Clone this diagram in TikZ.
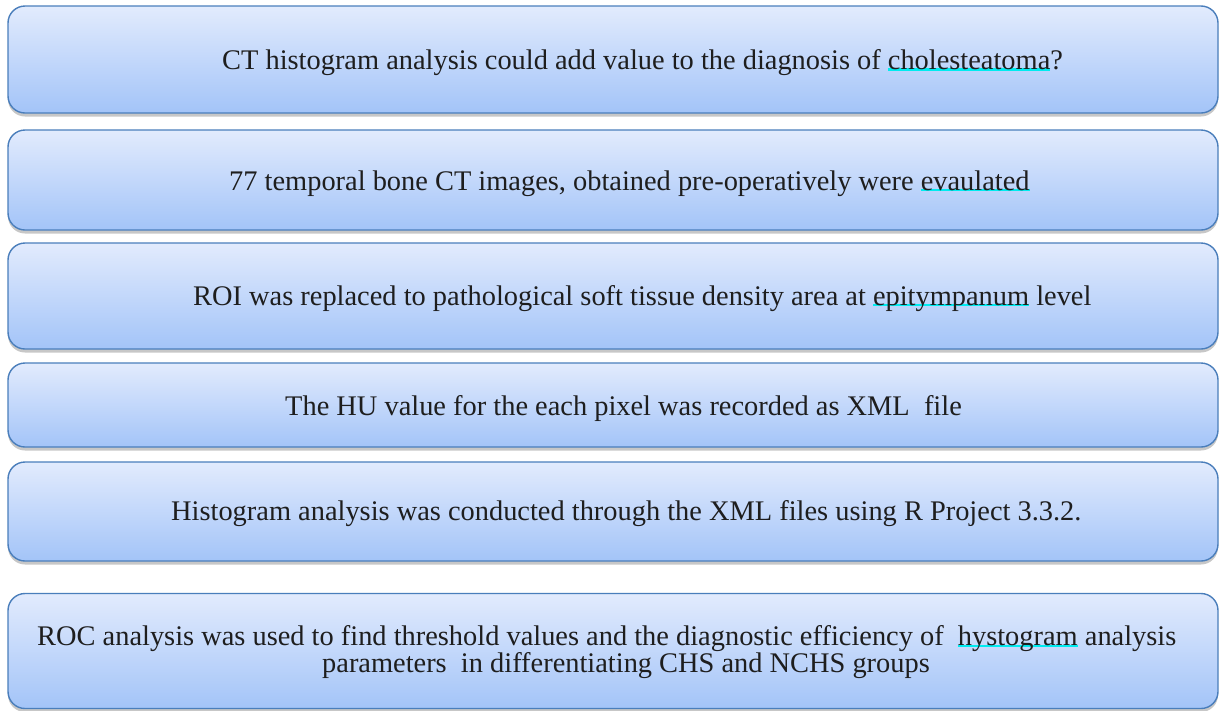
\documentclass[tikz,border=0pt]{standalone}
\usepackage{fontspec}
\setmainfont{Liberation Serif}
\usetikzlibrary{shadows}
\definecolor{boxtop}{RGB}{226,235,253}
\definecolor{boxbot}{RGB}{163,196,248}
\definecolor{boxline}{RGB}{74,126,187}
\definecolor{ulcyan}{RGB}{0,235,240}
\definecolor{txt}{RGB}{30,30,30}
\newsavebox\culbox
\newcommand\cul[1]{\sbox\culbox{#1}\rlap{\textcolor{ulcyan}{\rule[-1.3pt]{\wd\culbox}{2.2pt}}}\usebox\culbox}
\tikzset{
  flowbox/.style={draw=boxline, line width=1.4pt, rounded corners=17pt,
    top color=boxtop, bottom color=boxbot, minimum width=1210pt,
    inner sep=0pt, anchor=center,
    drop shadow={shadow xshift=0pt, shadow yshift=-3.5pt, opacity=0.22, fill=black}},
  flowtext/.style={inner sep=0pt, text=txt, font=\fontsize{28.4}{27}\selectfont}
}
\begin{document}
\begin{tikzpicture}[x=1pt,y=1pt]
\useasboundingbox (0,0) rectangle (1220,-710);
\node[flowbox, minimum height=107pt] (b1) at (613,-59.5) {};
\node[flowbox, minimum height=100pt] (b2) at (613,-180) {};
\node[flowbox, minimum height=106pt] (b3) at (613,-296) {};
\node[flowbox, minimum height=84pt]  (b4) at (613,-405) {};
\node[flowbox, minimum height=99pt]  (b5) at (613,-511.5) {};
\node[flowbox, minimum height=115pt] (b6) at (613,-651) {};

\node[flowtext, anchor=base west] (t1) at (222,-69.3) {CT histogram analysis could add value to the diagnosis of \cul{cholesteatoma}?};
\node[flowtext, anchor=base west] (t2) at (229,-190) {77 temporal bone CT images, obtained pre-operatively were \cul{evaulated}};
\node[flowtext, anchor=base west] (t3) at (193,-305) {ROI was replaced to pathological soft tissue density area at \cul{epitympanum} level};
\node[flowtext, anchor=base west] (t4) at (285,-415) {The HU value for the each pixel was recorded as XML\ \ file};
\node[flowtext, anchor=base west] (t5) at (171,-520.7) {Histogram analysis was conducted through the XML files using R Project 3.3.2.};
\node[flowtext, anchor=west, align=left] (t6) at (37,-652) {ROC analysis was used to find threshold values and the diagnostic efficiency of\ \ \cul{hystogram} analysis\\\hspace*{285pt}parameters\ \ in differentiating CHS and NCHS groups};
\end{tikzpicture}
\end{document}
